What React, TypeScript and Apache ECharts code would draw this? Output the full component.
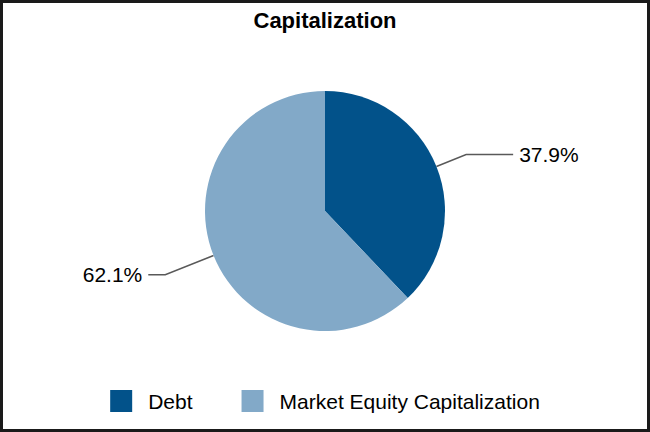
import React, { useEffect, useRef } from "react";
import * as echarts from "echarts";

const categories = ["Debt", "Market Equity Capitalization"];
const shares = [37.9, 62.1];
const colors = ["#02528a", "#82a9c8"];
// [length, length2] of each slice's label line
const lineLengths = [
  [32, 47],
  [52, 17],
];

const FONT = "Arial, 'Liberation Sans', sans-serif";

const App: React.FC = () => {
  const chartRef = useRef<HTMLDivElement>(null);

  useEffect(() => {
    if (!chartRef.current) return;
    const myChart = echarts.init(chartRef.current, undefined, { renderer: "svg" });

    const option: echarts.EChartsOption = {
      animation: false,
      backgroundColor: "#ffffff",
      title: {
        text: "Capitalization",
        left: "center",
        top: 4,
        textStyle: {
          fontFamily: FONT,
          fontSize: 22,
          fontWeight: "bold",
          color: "#000",
        },
      },
      legend: {
        data: categories,
        left: "center",
        top: 385,
        icon: "rect",
        itemWidth: 22,
        itemHeight: 22,
        itemGap: 49,
        textStyle: {
          fontFamily: FONT,
          fontSize: 21,
          color: "#000",
          padding: [0, 0, 0, 11],
        },
      },
      series: [
        {
          type: "pie",
          center: ["50%", 211],
          radius: 120,
          startAngle: 90,
          clockwise: true,
          data: categories.map((name, i) => ({
            name,
            value: shares[i],
            itemStyle: { color: colors[i] },
            labelLine: { length: lineLengths[i][0], length2: lineLengths[i][1] },
          })),
          label: {
            formatter: (p: any) => `${p.value.toFixed(1)}%`,
            fontFamily: FONT,
            fontSize: 21,
            color: "#000",
            distanceToLabelLine: 6,
          },
          labelLine: {
            lineStyle: { color: "#595959", width: 1.5 },
          },
        },
      ],
    };

    myChart.setOption(option);

    // Cleanup on component unmount
    return () => {
      myChart.dispose();
    };
  }, []);

  return (
    <div style={{ position: "absolute", left: 0, top: 0, width: 650, height: 432 }}>
      <div ref={chartRef} style={{ width: "100%", height: "100%" }} />
      <div
        style={{
          position: "absolute",
          left: 0,
          top: 0,
          width: 650,
          height: 432,
          boxSizing: "border-box",
          border: "3px solid #1a1a1a",
          pointerEvents: "none",
        }}
      />
    </div>
  );
};

export default App;
